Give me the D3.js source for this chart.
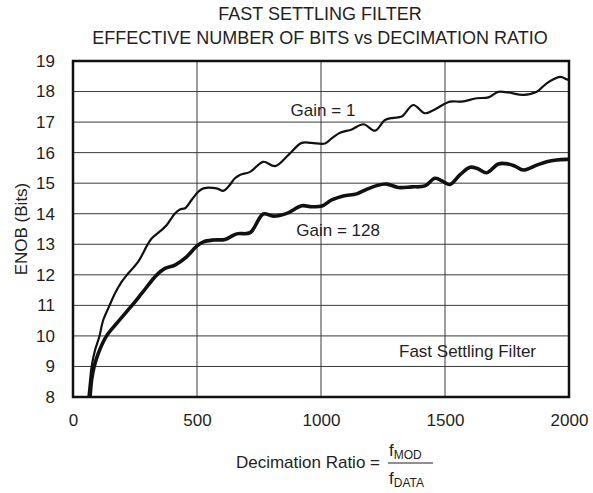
<!DOCTYPE html>
<html>
<head>
<meta charset="utf-8">
<script src="https://cdn.jsdelivr.net/npm/d3@7"></script>
<style>
  body { margin: 0; background: #fff; }
  text { font-family: Arial, "Liberation Sans", Helvetica, sans-serif; fill: #231f20; }
</style>
</head>
<body>
<div id="chart"></div>
<script>
// decimation ratio / ENOB
const ratioGain1 = [62, 69, 75, 89, 106, 122, 147, 169, 196, 223, 263, 300, 317, 358, 378, 411, 431, 452, 478, 505, 526, 579, 606, 626, 653, 673, 714, 767, 815, 868, 922, 962, 1016, 1043, 1077, 1124, 1171, 1218, 1258, 1292, 1325, 1372, 1419, 1453, 1520, 1567, 1628, 1675, 1715, 1755, 1816, 1870, 1910, 1964, 1991, 2000];
const enobGain1 = [8.01, 8.56, 8.99, 9.54, 9.97, 10.52, 10.99, 11.39, 11.77, 12.05, 12.43, 12.98, 13.19, 13.47, 13.63, 14.01, 14.14, 14.18, 14.45, 14.72, 14.83, 14.83, 14.75, 14.88, 15.16, 15.27, 15.37, 15.70, 15.56, 15.92, 16.32, 16.32, 16.30, 16.47, 16.65, 16.76, 16.93, 16.72, 17.07, 17.14, 17.18, 17.56, 17.29, 17.39, 17.67, 17.67, 17.78, 17.81, 17.99, 17.97, 17.89, 17.99, 18.27, 18.48, 18.40, 18.38];

const ratioGain128 = [69, 75, 85, 102, 133, 176, 237, 277, 337, 371, 411, 458, 499, 526, 566, 613, 660, 714, 767, 808, 862, 922, 962, 1003, 1043, 1090, 1144, 1184, 1224, 1265, 1312, 1366, 1419, 1460, 1493, 1520, 1560, 1601, 1628, 1668, 1715, 1755, 1782, 1816, 1870, 1910, 1950, 1991, 2000];
const enobGain128 = [8.01, 8.56, 8.99, 9.43, 9.97, 10.41, 10.99, 11.39, 11.99, 12.21, 12.32, 12.59, 12.94, 13.08, 13.14, 13.16, 13.34, 13.38, 13.99, 13.92, 14.01, 14.26, 14.23, 14.25, 14.45, 14.58, 14.65, 14.80, 14.92, 14.97, 14.86, 14.88, 14.91, 15.16, 15.05, 14.96, 15.27, 15.52, 15.49, 15.34, 15.63, 15.63, 15.56, 15.43, 15.59, 15.70, 15.76, 15.78, 15.78];

const xTicks = [0, 500, 1000, 1500, 2000];
const yTicks = [8, 9, 10, 11, 12, 13, 14, 15, 16, 17, 18, 19];

const W = 593, H = 493;
const margin = {top: 61, right: 24, bottom: 96, left: 73};
const width = W - margin.left - margin.right;
const height = H - margin.top - margin.bottom;

const svg = d3.select("#chart").append("svg")
    .attr("width", W)
    .attr("height", H);

const g = svg.append("g")
    .attr("transform", "translate(" + margin.left + "," + margin.top + ")");

const x = d3.scaleLinear().domain([0, 2000]).range([0, width]);
const y = d3.scaleLinear().domain([8, 19]).range([height, 0]);

// grid
g.selectAll(".hgrid").data(yTicks.slice(1, -1)).enter().append("line")
    .attr("x1", 0).attr("x2", width)
    .attr("y1", d => y(d)).attr("y2", d => y(d))
    .attr("stroke", "#3a3a3a").attr("stroke-width", 1);
g.selectAll(".vgrid").data(xTicks.slice(1, -1)).enter().append("line")
    .attr("y1", 0).attr("y2", height)
    .attr("x1", d => x(d)).attr("x2", d => x(d))
    .attr("stroke", "#3a3a3a").attr("stroke-width", 1);

// curves
svg.append("defs").append("clipPath").attr("id", "clip")
    .append("rect").attr("width", width).attr("height", height);

const line = d3.line()
    .x(d => x(d[0]))
    .y(d => y(d[1]))
    .curve(d3.curveCatmullRom);

const series = [
    {r: ratioGain1, e: enobGain1, w: 2.2},
    {r: ratioGain128, e: enobGain128, w: 3.6}
];
g.append("g").attr("clip-path", "url(#clip)")
    .selectAll("path").data(series).enter().append("path")
    .attr("d", s => line(d3.zip(s.r, s.e)))
    .attr("fill", "none")
    .attr("stroke", "#111")
    .attr("stroke-width", s => s.w)
    .attr("stroke-linejoin", "round");

// frame
g.append("rect")
    .attr("width", width).attr("height", height)
    .attr("fill", "none").attr("stroke", "#111").attr("stroke-width", 2.5);

// axes
const xAxis = g.append("g")
    .attr("transform", "translate(0," + height + ")")
    .call(d3.axisBottom(x).tickValues(xTicks).tickFormat(d3.format("d")).tickSize(0).tickPadding(17));
const yAxis = g.append("g")
    .call(d3.axisLeft(y).tickValues(yTicks).tickFormat(d3.format("d")).tickSize(0).tickPadding(18));
[xAxis, yAxis].forEach(a => {
    a.select(".domain").remove();
    a.selectAll("text").attr("font-size", 17).attr("font-family", null).attr("fill", "#231f20");
});

// titles
svg.append("text").attr("x", 320).attr("y", 20).attr("text-anchor", "middle")
    .attr("font-size", 18).text("FAST SETTLING FILTER");
svg.append("text").attr("x", 320).attr("y", 44).attr("text-anchor", "middle")
    .attr("font-size", 18).text("EFFECTIVE NUMBER OF BITS vs DECIMATION RATIO");

svg.append("text")
    .attr("transform", "translate(27," + (margin.top + height / 2) + ") rotate(-90)")
    .attr("text-anchor", "middle").attr("font-size", 17).text("ENOB (Bits)");

// annotations
g.append("text").attr("x", x(1008)).attr("y", y(17.2)).attr("text-anchor", "middle")
    .attr("font-size", 17).text("Gain = 1");
g.append("text").attr("x", x(1069)).attr("y", y(13.27)).attr("text-anchor", "middle")
    .attr("font-size", 17).text("Gain = 128");
g.append("text").attr("x", x(1867)).attr("y", y(9.31)).attr("text-anchor", "end")
    .attr("font-size", 17).text("Fast Settling Filter");

// x-axis label with fraction
const xl = svg.append("g");
xl.append("text").attr("x", 380).attr("y", 468).attr("text-anchor", "end")
    .attr("font-size", 17).text("Decimation Ratio =");
const num = xl.append("text").attr("x", 389).attr("y", 456).attr("font-size", 17);
num.append("tspan").text("f");
num.append("tspan").attr("font-size", 12).attr("dy", 3).text("MOD");
const den = xl.append("text").attr("x", 389).attr("y", 484).attr("font-size", 17);
den.append("tspan").text("f");
den.append("tspan").attr("font-size", 12).attr("dy", 3).text("DATA");
xl.append("line").attr("x1", 388).attr("x2", 433).attr("y1", 463).attr("y2", 463)
    .attr("stroke", "#231f20").attr("stroke-width", 1);
</script>
</body>
</html>
